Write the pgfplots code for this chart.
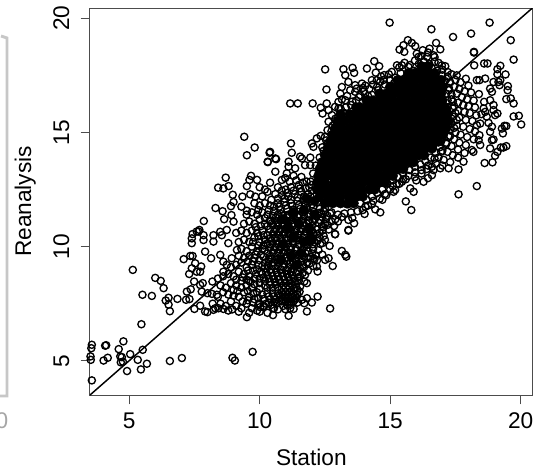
\documentclass[border=0pt]{standalone}
\usepackage{pgfplots}
\pgfplotsset{compat=1.18}
\usepackage{fontspec}
\setmainfont{Liberation Sans}
\begin{document}
\begin{tikzpicture}[x=0.75pt,y=0.75pt]
\path[use as bounding box] (0,0) rectangle (533,-469);
% scan remnant along the left edge
\draw[black!22,line width=2.2pt] (0,-396) -- (7,-396) -- (7,-38) -- (1,-36);
\node[text=black!35,font=\fontsize{17}{20}\selectfont] at (2,-421) {0};
\begin{axis}[
    at={(67.5pt,-296.25pt)}, anchor=south west,
    scale only axis, width=332pt, height=290.25pt,
    xmin=3.5, xmax=20.46, ymin=3.5, ymax=20.45,
    xtick={5,10,15,20}, ytick={5,10,15,20},
    tick pos=left, tick align=outside,
    major tick length=7pt,
    axis line style={black!70,line width=0.75pt},
    every tick/.style={black!70,line width=0.75pt},
    tick label style={font=\fontsize{17}{20}\selectfont},
    yticklabel style={rotate=90,anchor=south,yshift=5pt},
    xticklabel style={yshift=-3pt},
    /pgf/number format/assume math mode=true,
    xlabel={Station}, ylabel={Reanalysis},
    every axis x label/.style={at={(axis description cs:0.5,0)},anchor=center,yshift=-47pt,font=\fontsize{17}{20}\selectfont},
    every axis y label/.style={at={(axis description cs:-0.146,0.5)},anchor=center,rotate=90,font=\fontsize{17}{20}\selectfont},
]
% 1:1 line
\addplot[black,line width=1.1pt,forget plot] coordinates {(3.5,3.5) (20.6,20.6)};

% saturated core, overplotted until solid
\addplot[only marks,mark=*,mark size=3.7pt,mark options={fill=black,draw=black,line width=0.3pt}] coordinates {
(13.1,12.2)(13.4,12.2)(13.7,12.2)(13.0,12.5)(13.3,12.5)(13.6,12.5)(13.9,12.5)(14.2,12.5)
(12.85,12.8)(13.15,12.8)(13.4,12.8)(13.7,12.8)(13.95,12.8)(14.25,12.8)(14.55,12.8)
(12.75,13.1)(13.0,13.1)(13.3,13.1)(13.55,13.1)(13.85,13.1)(14.1,13.1)(14.4,13.1)(14.65,13.1)(14.95,13.1)
(12.7,13.4)(12.9,13.4)(13.2,13.4)(13.45,13.4)(13.75,13.4)(14.0,13.4)(14.3,13.4)(14.55,13.4)(14.85,13.4)(15.1,13.4)(15.3,13.4)
(12.75,13.7)(13.05,13.7)(13.3,13.7)(13.6,13.7)(13.85,13.7)(14.15,13.7)(14.4,13.7)(14.7,13.7)(14.95,13.7)(15.25,13.7)(15.5,13.7)(15.7,13.7)
(12.7,14.0)(12.95,14.0)(13.2,14.0)(13.45,14.0)(13.75,14.0)(14.0,14.0)(14.3,14.0)(14.55,14.0)(14.85,14.0)(15.1,14.0)(15.4,14.0)(15.65,14.0)(15.9,14.0)(16.1,14.0)
(12.85,14.3)(13.1,14.3)(13.35,14.3)(13.6,14.3)(13.9,14.3)(14.15,14.3)(14.45,14.3)(14.7,14.3)(15.0,14.3)(15.25,14.3)(15.55,14.3)(15.8,14.3)(16.1,14.3)(16.35,14.3)
(12.95,14.6)(13.2,14.6)(13.5,14.6)(13.75,14.6)(14.05,14.6)(14.3,14.6)(14.6,14.6)(14.85,14.6)(15.15,14.6)(15.4,14.6)(15.7,14.6)(15.95,14.6)(16.25,14.6)(16.5,14.6)(16.7,14.6)
(13.05,14.9)(13.35,14.9)(13.6,14.9)(13.9,14.9)(14.15,14.9)(14.45,14.9)(14.7,14.9)(15.0,14.9)(15.25,14.9)(15.55,14.9)(15.8,14.9)(16.1,14.9)(16.35,14.9)(16.65,14.9)(16.9,14.9)
(13.15,15.2)(13.45,15.2)(13.75,15.2)(14.0,15.2)(14.3,15.2)(14.55,15.2)(14.85,15.2)(15.1,15.2)(15.4,15.2)(15.65,15.2)(15.95,15.2)(16.2,15.2)(16.5,15.2)(16.75,15.2)(16.95,15.2)
(13.25,15.5)(13.55,15.5)(13.85,15.5)(14.15,15.5)(14.4,15.5)(14.7,15.5)(14.95,15.5)(15.25,15.5)(15.5,15.5)(15.8,15.5)(16.05,15.5)(16.35,15.5)(16.6,15.5)(16.9,15.5)
(13.45,15.8)(13.7,15.8)(14.0,15.8)(14.3,15.8)(14.55,15.8)(14.85,15.8)(15.1,15.8)(15.4,15.8)(15.65,15.8)(15.95,15.8)(16.2,15.8)(16.5,15.8)(16.75,15.8)(17.0,15.8)
(13.85,16.1)(14.15,16.1)(14.4,16.1)(14.7,16.1)(14.95,16.1)(15.25,16.1)(15.5,16.1)(15.8,16.1)(16.05,16.1)(16.35,16.1)(16.6,16.1)(16.85,16.1)
(14.35,16.4)(14.6,16.4)(14.85,16.4)(15.1,16.4)(15.4,16.4)(15.65,16.4)(15.95,16.4)(16.2,16.4)(16.5,16.4)(16.75,16.4)
(14.85,16.7)(15.1,16.7)(15.35,16.7)(15.6,16.7)(15.85,16.7)(16.1,16.7)(16.4,16.7)(16.65,16.7)
(15.45,17.0)(15.7,17.0)(15.95,17.0)(16.25,17.0)(16.55,17.0)
(15.95,17.3)(16.2,17.3)(16.45,17.3)
% its outer rim
(12.5,11.9)(12.8,11.9)(13.1,11.9)(13.4,11.9)(13.6,11.9)(12.3,12.2)(12.6,12.2)(12.85,12.2)(13.95,12.2)
(12.2,12.5)(12.45,12.5)(12.7,12.5)(14.4,12.5)(12.2,12.8)(12.5,12.8)(14.8,12.8)(12.25,13.1)(12.5,13.1)(15.1,13.1)
(12.3,13.4)(12.5,13.4)(15.5,13.4)(12.4,13.7)(12.6,13.7)(15.9,13.7)(12.5,14.0)(16.3,14.0)(12.6,14.3)(16.6,14.3)
(12.7,14.6)(16.85,14.6)(12.8,14.9)(17.0,14.9)(12.9,15.2)(17.15,15.2)(13.0,15.5)(17.15,15.5)(17.25,15.5)(13.1,15.8)
(17.2,15.8)(13.7,16.1)(17.1,16.1)(14.1,16.4)(17.0,16.4)(14.6,16.7)(16.95,16.7)(15.0,17.0)(15.2,17.0)(16.8,17.0)
(17.0,17.0)(15.3,17.3)(15.55,17.3)(15.75,17.3)(16.7,17.3)(16.95,17.3)(15.7,17.6)(15.95,17.6)(16.2,17.6)(16.45,17.6)
(16.7,17.6)(16.2,17.9)(16.45,17.9)
% darkest patches of the lower cluster
(10.9,10.1)(11.3,10.4)(11.7,10.2)(11.1,10.8)(11.5,11.0)(11.9,10.8)(11.3,11.5)(11.7,11.6)(12.1,11.4)(10.9,11.2)
(11.6,9.7)(11.2,9.6)(12.1,12.0)(11.8,12.1)(11.4,9.2)(12.0,10.3)(10.8,9.4)
};

% open circles, read region by region
\addplot[only marks,mark=o,mark size=2.7pt,mark options={draw=black,line width=1pt}] coordinates {
% bottom left
(3.57,5.70)(3.55,5.55)(3.52,5.19)(3.53,5.04)(3.57,4.14)(4.12,5.68)(4.08,5.66)(4.02,5.01)(4.18,5.13)(4.78,5.85)
(4.6,5.51)(5.04,5.29)(5.52,5.48)(4.66,5.19)(4.72,5.16)(4.68,4.93)(4.76,4.96)(5.33,5.04)(4.92,4.55)(5.68,4.87)
(5.45,4.62)(6.56,4.99)(7.02,5.12)(8.96,5.13)(9.05,5.01)(9.73,5.39)(9.51,6.91)(5.14,8.98)(6.0,8.63)(6.21,8.5)
(6.32,8.18)(5.51,7.89)(5.87,7.84)(5.47,6.6)(6.4,7.64)(6.51,7.76)(6.51,7.46)(6.56,7.17)(6.85,7.71)
% rising arm
(7.09,9.45)(7.34,9.59)(7.43,9.59)(7.53,9.27)(7.76,9.13)(7.4,9.05)(7.3,8.8)(7.59,8.9)(7.72,8.9)(7.49,8.47)
(7.72,8.32)(7.82,8.4)(7.36,8.13)(7.21,8.03)(7.18,7.67)(7.31,7.7)(7.78,8.03)(7.5,7.27)(7.72,7.41)(7.91,7.16)
(8.0,7.13)(8.23,7.23)(8.42,7.3)(8.61,7.27)(8.0,7.96)(8.17,7.93)(8.36,7.89)(8.19,8.47)(8.2,7.5)(7.4,10.15)
(7.4,10.36)(7.66,10.66)(7.85,10.29)(7.91,9.78)(8.14,9.49)(8.23,10.22)(8.49,9.64)(8.61,9.34)(8.55,10.5)(8.93,9.49)
(8.8,10.15)(9.13,9.85)(8.61,8.9)(8.74,9.2)
% top left outliers
(9.41,14.81)(9.81,14.34)(9.51,14.0)(10.38,14.11)(10.31,13.7)(9.67,13.1)(9.61,12.92)(9.9,12.92)(8.7,13.02)(8.41,12.58)
(8.61,12.55)(8.81,12.65)(9.51,12.65)(8.97,12.27)(9.34,12.19)(9.64,12.29)(9.83,12.19)(9.0,11.95)(8.9,11.77)(8.31,11.69)
(8.58,11.55)(9.3,11.75)(9.51,11.57)(8.92,11.38)(8.64,11.2)(9.0,11.09)(7.86,11.12)(7.69,10.73)(7.59,10.66)(7.43,10.55)
(7.85,10.5)(8.23,10.5)(8.49,10.65)(8.74,10.73)
% top right outliers
(14.98,19.81)(16.58,19.52)(17.41,19.18)(18.1,19.33)(18.81,19.81)(19.62,19.04)(18.21,18.53)(18.21,18.5)(19.73,18.19)(18.22,17.94)
(18.6,18.02)(18.73,18.02)(19.22,17.92)(19.11,17.77)(19.42,17.54)(19.11,17.55)(18.32,17.29)(18.42,17.29)(18.64,17.36)(18.96,17.21)
(19.15,17.21)(19.22,17.29)(18.83,16.92)(18.9,16.78)(19.19,17.07)(19.51,17.03)(19.5,16.85)(18.4,16.68)(19.45,16.46)(19.62,16.49)
(19.73,16.27)(18.6,16.34)(18.83,16.41)(18.96,16.2)(19.73,15.7)(19.93,15.73)(20.02,15.35)(19.38,15.29)(19.45,15.28)(19.28,15.17)
(19.32,14.96)(19.02,15.76)(19.11,15.83)(18.96,15.98)(18.58,16.05)(18.64,15.9)(18.7,15.69)(18.32,15.32)(18.45,15.39)(18.77,15.42)
(18.9,15.25)(18.83,15.03)(18.9,14.66)(18.96,14.69)(19.34,14.34)(19.45,14.4)(19.24,14.34)(19.11,14.15)(19.02,13.98)(18.83,14.3)
(18.92,13.69)(18.62,13.66)(18.45,14.45)(18.39,14.66)(18.42,14.88)(18.19,14.15)(18.13,14.23)(17.81,13.72)(17.62,13.38)(17.24,13.43)
(16.92,13.43)(18.32,12.65)(17.62,12.29)
% lower edge of the main cloud
(15.6,11.98)(15.81,11.6)(15.9,12.4)(15.77,12.55)(16.28,12.84)(16.6,13.13)(16.66,13.35)(15.13,12.4)(15.19,12.48)(15.45,12.84)
(14.62,11.5)(14.43,11.63)(14.02,11.43)(13.62,11.02)(13.4,10.73)(12.89,10.54)(13.4,11.17)
% upper edge of the main cloud
(12.51,17.76)(13.21,17.77)(13.56,17.83)(13.28,17.51)(13.62,17.61)(14.11,17.8)(14.39,18.12)(14.58,17.9)(14.45,17.62)(12.56,16.88)
(11.17,16.27)(11.46,16.27)(12.03,16.27)(12.57,16.27)(12.34,16.08)(12.41,15.83)(12.64,15.98)(12.64,15.47)(11.2,14.52)(10.4,14.15)
(11.23,14.11)(10.6,13.86)(10.63,13.83)(10.31,13.72)(10.6,13.28)(11.11,13.72)(11.11,13.5)(11.55,13.94)(11.62,13.86)(11.94,13.9)
(12.0,14.52)(12.06,14.37)(12.34,14.85)(12.19,14.74)(11.74,13.57)(11.94,13.57)(11.36,13.43)(11.04,13.21)(10.85,12.92)(10.98,13.0)
(15.68,19.04)(15.83,18.92)(15.96,18.78)(15.51,18.82)(15.36,18.63)(15.54,18.53)(16.76,18.92)(16.51,18.67)(16.92,18.64)(16.25,18.6)
(16.66,18.38)(16.09,18.31)(16.41,18.31)(16.02,18.45)(16.98,17.94)(17.11,17.9)(15.26,17.94)(15.45,17.94)(15.7,17.87)(14.77,17.51)
(15.06,17.65)(14.3,17.29)(14.49,17.29)(14.62,17.22)(13.92,17.14)(13.66,17.07)(13.4,17.21)(13.15,16.99)(13.09,16.7)(13.47,16.85)
(13.66,16.78)(13.72,16.92)(13.85,16.63)(13.02,16.34)(12.89,16.12)(13.02,16.05)(13.28,16.41)(12.77,15.76)
(16.1,18.0)(16.3,18.1)(16.5,18.0)(16.7,18.1)(16.2,17.8)(16.4,17.75)(16.6,17.8)(16.8,17.7)(15.9,17.7)(15.7,17.55)(15.4,17.6)(15.2,17.4)
(15.0,17.3)(14.8,17.1)(14.5,17.0)(14.2,16.9)(14.0,16.8)(14.3,16.65)(14.05,16.5)(13.7,16.4)(13.5,16.2)(13.3,16.1)(13.1,15.8)(12.9,15.6)
(12.8,15.3)(12.6,15.1)(12.5,14.8)(12.6,14.5)(12.45,14.2)(12.55,13.9)(12.35,13.6)(12.4,13.3)(12.5,13.0)(12.3,12.8)(12.6,12.6)(12.7,12.3)
(12.85,12.0)(13.1,11.9)(13.35,11.85)(13.6,11.95)(13.85,11.9)(14.1,12.05)(14.3,12.2)(14.5,12.35)(14.7,12.5)(14.9,12.75)(15.1,12.9)(15.3,13.05)
(15.5,13.2)(15.75,13.35)(15.95,13.5)(16.15,13.6)(16.35,13.75)(16.55,13.9)(16.75,14.1)(16.9,14.35)(14.05,11.75)(14.3,11.85)(14.7,12.05)(14.85,12.25)
(15.1,12.65)(15.35,12.75)(15.6,12.95)(15.95,13.05)(16.2,13.2)(16.4,13.4)(16.0,12.9)(16.45,13.0)
(13.15,16.45)(13.35,16.6)(13.55,16.35)(13.8,16.55)(13.95,16.95)(14.15,16.6)(14.35,17.1)(14.55,16.85)(14.75,17.3)(14.95,17.55)
(15.15,17.15)(15.35,17.85)(15.55,18.05)(15.75,17.95)(15.95,18.15)(13.1,16.05)(13.25,15.85)(12.95,15.45)(12.75,15.05)(12.55,14.65)
(12.4,14.35)(12.3,13.9)(12.15,13.55)(12.05,13.2)(11.95,12.85)(14.05,17.05)(14.65,17.45)(16.2,18.35)(16.45,18.5)(16.7,18.3)
(16.85,18.05)(17.0,17.75)(17.2,17.65)(17.25,16.85)(17.35,16.45)(17.45,16.15)(17.5,15.85)(17.55,15.55)(17.45,15.2)(17.3,14.85)
(17.15,14.55)(16.95,14.15)(16.7,13.85)(16.45,13.55)(16.2,13.35)(15.95,13.25)(15.7,13.1)(15.5,12.95)(15.25,12.75)(15.0,12.5)
(14.8,12.3)(14.6,12.1)(14.35,12.0)(14.15,11.8)(13.95,11.6)(13.75,11.55)(13.5,11.5)(13.25,11.45)(13.0,11.4)(12.75,11.5)
(12.9,11.2)(13.15,11.3)(13.55,11.25)
% right flank of the cloud
(17.0,17.5)(17.2,17.45)(17.35,17.55)(17.55,17.5)(17.1,17.25)(17.3,17.2)(17.5,17.3)(17.7,17.2)(17.9,17.35)(18.0,17.05)
(17.05,17.0)(17.25,16.95)(17.45,17.0)(17.65,16.9)(17.85,16.8)(18.1,16.75)(17.15,16.7)(17.35,16.65)(17.55,16.7)(17.75,16.55)
(17.95,16.45)(18.2,16.4)(17.2,16.4)(17.4,16.35)(17.6,16.3)(17.8,16.2)(18.0,16.15)(18.25,16.1)(17.2,16.1)(17.4,16.05)
(17.6,15.95)(17.85,15.9)(18.05,15.85)(18.3,15.75)(18.5,15.8)(17.2,15.8)(17.4,15.7)(17.65,15.65)(17.9,15.55)(18.15,15.5)
(17.15,15.5)(17.35,15.4)(17.55,15.3)(17.8,15.25)(18.05,15.15)(18.25,15.05)(17.1,15.2)(17.3,15.1)(17.5,15.0)(17.7,14.9)
(17.95,14.8)(18.2,14.7)(17.05,14.9)(17.25,14.8)(17.45,14.7)(17.65,14.55)(17.9,14.45)(16.95,14.6)(17.15,14.5)(17.35,14.4)
(17.6,14.25)(17.85,14.1)(17.0,14.2)(17.2,14.15)(17.4,14.0)(17.6,13.9)(16.85,13.9)(17.05,13.8)(17.3,13.7)(16.75,13.65)
(17.0,13.55)(16.6,13.5)
% bridge to the lower cluster
(12.2,12.5)(12.0,12.7)(11.8,12.85)(11.6,13.05)(11.3,13.1)(11.5,12.7)(11.2,12.6)(11.0,12.5)(12.1,12.2)(11.85,12.3)
(11.6,12.4)(11.35,12.3)(11.1,12.2)(10.85,12.25)(12.4,12.1)(12.2,11.95)(11.95,12.0)(11.7,12.05)(11.45,12.0)(11.2,11.9)
(10.95,11.95)(10.7,11.9)(10.6,12.3)(10.7,12.6)(12.5,11.7)(12.3,11.65)(12.05,11.7)(11.8,11.7)(11.55,11.65)(11.3,11.6)
(11.05,11.65)(10.8,11.6)(10.55,11.55)(12.6,11.35)(12.4,11.3)(12.15,11.35)(11.9,11.4)(12.75,11.1)(12.5,11.0)(12.25,11.05)
(12.65,10.75)(12.4,10.7)(12.2,10.75)(12.5,10.3)(12.3,10.4)(12.1,10.2)(12.25,9.85)(12.05,9.9)(12.4,9.65)(12.2,9.4)
(12.0,9.7)(11.9,9.25)(12.05,9.15)(11.85,8.95)(11.7,9.1)(11.95,10.4)(11.85,9.8)(12.1,9.45)
(12.55,11.2)(12.7,11.45)(12.35,11.45)(12.45,10.85)(12.6,10.95)(12.3,10.6)(12.85,10.9)(13.0,11.1)(12.4,10.15)
% dense part of the lower cluster
(10.5,11.35)(10.7,11.4)(10.9,11.35)(11.1,11.4)(11.3,11.35)(11.5,11.4)(11.7,11.35)(11.9,11.15)(12.05,11.1)
(10.4,11.15)(10.6,11.15)(10.8,11.15)(11.0,11.15)(11.2,11.15)(11.4,11.15)(11.6,11.15)(11.8,11.0)(12.0,10.9)
(10.5,10.95)(10.7,10.95)(10.9,10.95)(11.1,10.95)(11.3,10.95)(11.5,10.95)(11.7,10.9)(11.9,10.75)(12.05,10.6)
(10.4,10.75)(10.6,10.75)(10.8,10.75)(11.0,10.75)(11.2,10.75)(11.4,10.75)(11.6,10.75)(11.8,10.6)(11.95,10.5)
(10.5,10.55)(10.7,10.55)(10.9,10.55)(11.1,10.55)(11.3,10.55)(11.5,10.55)(11.7,10.5)(11.85,10.3)
(10.4,10.35)(10.6,10.35)(10.8,10.35)(11.0,10.35)(11.2,10.35)(11.4,10.35)(11.6,10.3)(11.75,10.1)
(10.5,10.15)(10.7,10.15)(10.9,10.15)(11.1,10.15)(11.3,10.15)(11.5,10.1)(11.7,9.95)
(10.4,9.95)(10.6,9.95)(10.8,9.95)(11.0,9.95)(11.2,9.95)(11.4,9.9)(11.6,9.8)
(10.5,9.75)(10.7,9.75)(10.9,9.75)(11.1,9.75)(11.3,9.7)(11.5,9.6)(11.7,9.55)
(10.4,9.55)(10.6,9.55)(10.8,9.55)(11.0,9.5)(11.2,9.5)(11.4,9.4)(11.6,9.35)
(10.35,9.35)(10.55,9.3)(10.75,9.3)(10.95,9.25)(11.15,9.25)(11.35,9.15)(11.55,9.05)
(10.62,11.27)(10.83,11.42)(11.04,11.28)(11.23,11.47)(11.46,11.29)(11.66,11.5)(11.87,11.32)(12.08,11.52)(12.28,11.48)(12.45,11.55)
(10.47,11.03)(10.67,11.06)(10.86,11.04)(11.07,11.08)(11.26,11.02)(11.47,11.06)(11.66,11.03)(11.85,11.13)(12.12,11.21)(12.33,11.14)
(10.55,10.65)(10.76,10.66)(10.96,10.64)(11.17,10.68)(11.36,10.63)(11.57,10.66)(11.78,10.67)(12.0,10.71)(12.2,10.55)(12.38,10.9)
(10.46,10.25)(10.66,10.26)(10.86,10.24)(11.07,10.28)(11.26,10.23)(11.47,10.27)(11.66,10.2)(11.83,10.08)(12.03,10.1)(12.21,10.25)
(10.55,9.85)(10.76,9.87)(10.96,9.84)(11.17,9.86)(11.36,9.83)(11.55,9.72)(11.76,9.7)(11.95,9.55)(12.15,9.62)
(10.47,9.46)(10.67,9.43)(10.86,9.42)(11.07,9.38)(11.27,9.35)(11.47,9.25)(11.65,9.2)(11.8,9.3)
% lower left cluster
(8.3,7.3)(8.5,7.5)(8.7,7.4)(8.9,7.6)(9.1,7.4)(9.3,7.3)(9.5,7.5)(9.7,7.3)(9.9,7.2)(8.4,7.8)
(8.6,8.0)(8.8,7.9)(9.0,8.1)(9.2,7.8)(9.4,8.0)(9.6,7.8)(9.8,7.7)(10.0,7.5)(8.5,8.3)(8.7,8.2)
(8.9,8.4)(9.1,8.3)(9.3,8.5)(9.5,8.3)(9.7,8.2)(9.9,8.0)(10.1,7.9)(8.4,8.6)(8.6,8.7)(8.8,8.8)
(9.0,8.7)(9.2,8.9)(9.4,8.8)(9.6,8.7)(9.8,8.6)(10.0,8.4)(8.9,9.1)(9.1,9.2)(9.3,9.3)(9.5,9.1)
(9.7,9.2)(9.9,9.0)(10.1,8.8)(9.6,7.1)(9.2,7.15)(10.3,7.1)(10.0,7.15)(8.8,7.2)(8.95,7.25)
(9.2,9.6)(9.4,9.5)(9.6,9.6)(9.8,9.5)(10.0,9.4)(10.2,9.3)(9.3,9.9)(9.5,9.8)(9.7,10.0)(9.9,9.8)
(10.1,9.9)(10.3,9.7)(9.2,10.2)(9.4,10.3)(9.6,10.2)(9.8,10.4)(10.0,10.2)(10.2,10.3)(10.4,10.1)(9.1,10.6)
(9.3,10.7)(9.5,10.6)(9.7,10.7)(9.9,10.6)(10.1,10.7)(10.3,10.5)(9.4,11.0)(9.6,11.1)(9.8,11.0)(10.0,11.2)
(10.2,11.0)(10.4,11.1)(9.5,11.4)(9.7,11.5)(9.9,11.4)(10.1,11.5)(10.3,11.4)(10.0,11.8)(10.2,11.9)(10.4,11.8)
(9.8,11.9)(10.1,12.2)(10.3,12.4)(10.0,12.6)(10.4,12.8)(10.2,12.5)
(9.0,7.85)(9.15,8.05)(9.3,8.2)(9.1,8.55)(9.35,8.65)(9.5,8.55)(9.65,8.45)(9.85,8.8)(9.55,8.95)(9.75,8.95)
(9.55,9.35)(9.75,9.35)(9.95,9.2)(10.15,9.55)(10.35,9.45)(9.85,9.65)(10.05,9.65)(10.2,9.85)(10.15,10.05)(10.3,10.15)(9.95,10.05)(9.75,10.2)
(9.95,10.45)(10.15,10.5)(10.3,10.9)(10.05,10.9)(9.85,10.85)(10.2,11.25)(9.95,11.6)(10.35,11.6)(10.55,11.75)(10.75,11.75)(11.0,11.8)(11.25,11.78)(11.5,11.82)(11.75,11.85)(12.0,11.85)
(10.45,12.05)(10.7,12.1)(10.95,12.1)(11.2,12.05)(11.45,12.15)(11.7,12.2)(11.95,12.2)(10.85,12.45)(11.05,12.35)(11.3,12.45)(11.55,12.55)(11.75,12.55)(12.0,12.45)(11.15,12.85)(11.4,12.9)(11.65,12.8)(11.9,12.6)
% knot near the bottom
(10.2,9.05)(10.4,9.0)(10.6,9.05)(10.8,9.0)(11.0,8.95)(11.2,8.9)(11.4,8.85)(11.55,8.7)(10.3,8.75)(10.5,8.7)
(10.7,8.7)(10.9,8.7)(11.1,8.65)(11.3,8.6)(11.5,8.5)(10.2,8.5)(10.4,8.45)(10.6,8.45)(10.8,8.4)(11.0,8.4)
(11.2,8.4)(11.4,8.35)(11.55,8.25)(10.3,8.2)(10.5,8.2)(10.7,8.2)(10.85,8.2)(11.0,8.2)(11.15,8.2)(11.3,8.15)
(11.45,8.1)(10.3,7.95)(10.5,7.95)(10.7,7.95)(10.85,8.0)(11.0,8.0)(11.15,8.0)(11.3,7.95)(11.45,7.9)(10.4,7.7)
(10.6,7.7)(10.8,7.8)(10.95,7.8)(11.1,7.8)(11.25,7.8)(11.4,7.75)(10.25,7.5)(10.45,7.45)(10.65,7.5)(10.85,7.6)
(11.0,7.6)(11.15,7.6)(11.3,7.6)(11.45,7.55)(10.55,7.3)(10.7,7.25)(10.9,7.4)(11.05,7.45)(11.2,7.45)
(10.1,9.15)(10.3,9.15)(10.5,9.15)(10.7,9.12)(10.9,9.1)(11.1,9.05)(11.3,9.0)(11.47,8.9)(11.65,8.85)
(10.05,8.9)(10.25,8.87)(10.45,8.85)(10.65,8.87)(10.85,8.85)(11.05,8.8)(11.25,8.75)(11.45,8.65)
(10.0,8.6)(10.15,8.65)(10.35,8.6)(10.55,8.57)(10.75,8.55)(10.95,8.55)(11.15,8.52)(11.35,8.48)
(9.6,8.5)(9.8,8.35)(10.0,8.15)(10.2,8.3)(10.4,8.32)(10.6,8.33)(10.9,8.3)(11.1,8.3)(11.25,8.3)(11.4,8.22)
(9.55,8.05)(9.75,7.95)(9.95,7.75)(10.15,7.7)(10.35,7.82)(10.55,7.82)(10.75,7.85)(10.9,7.9)(11.05,7.9)(11.2,7.9)(11.35,7.85)
(9.35,7.6)(9.55,7.65)(9.75,7.55)(9.95,7.45)(10.15,7.4)(10.35,7.55)(10.55,7.58)(10.75,7.62)(10.9,7.7)(11.05,7.7)(11.2,7.7)(11.35,7.68)
(10.51,7.0)(11.11,6.97)(10.98,7.26)(11.3,7.27)(11.17,7.3)(10.51,7.3)(10.15,7.35)(10.02,7.35)(11.81,7.16)(12.7,7.29)
(12.22,7.81)(11.81,7.74)(11.62,7.67)(12.0,7.55)(11.71,7.52)(11.53,8.03)(11.71,8.47)(11.81,8.4)(11.74,8.76)
(13.4,10.7)(12.89,10.55)(12.68,10.03)(13.15,9.81)(13.28,9.64)(13.32,9.56)(12.8,9.15)(12.45,10.47)(12.32,10.12)(12.64,9.49)
(12.51,9.42)(12.22,8.91)(12.19,9.13)(11.87,9.49)(12.06,9.49)
};
\end{axis}
\end{tikzpicture}
\end{document}
